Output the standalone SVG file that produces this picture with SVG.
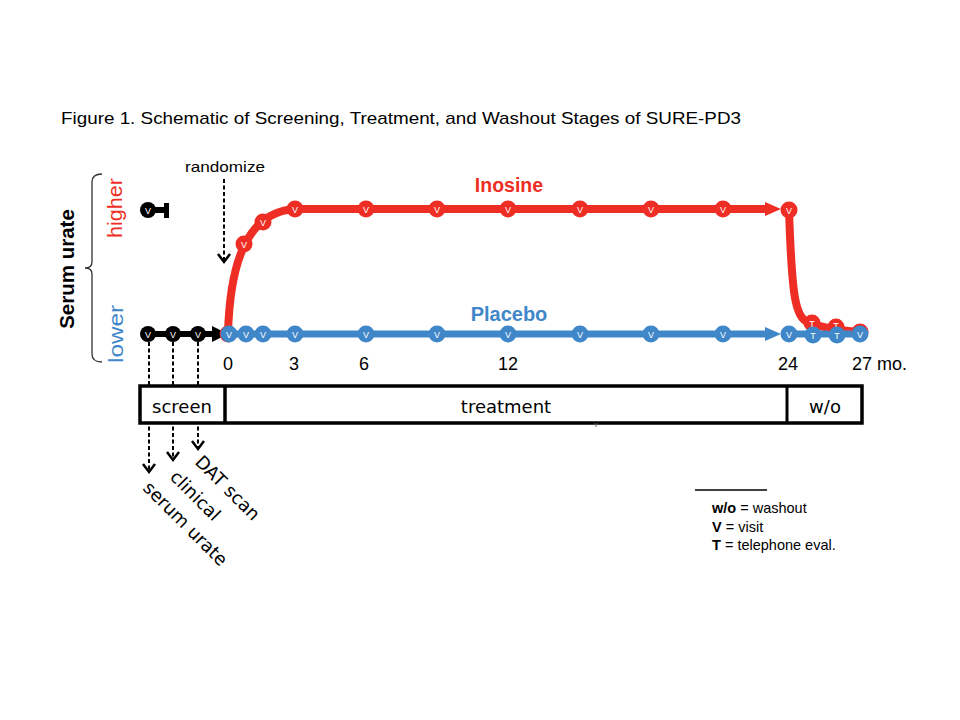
<svg xmlns="http://www.w3.org/2000/svg" width="960" height="720" viewBox="0 0 960 720">
<defs>
<style>
.t{font-family:"Liberation Sans",Arial,sans-serif;}
.d{font-family:"DejaVu Sans",Verdana,sans-serif;fill:#000;}
.red{fill:#EE2E24;}
.blue{fill:#3F87C8;}
.nv{font-family:"Liberation Sans",Arial,sans-serif;font-size:9px;fill:#fff;text-anchor:middle;}
.num{font-family:"Liberation Sans",Arial,sans-serif;font-size:18px;fill:#000;text-anchor:middle;}
.dash{stroke:#000;stroke-width:2;stroke-dasharray:4 2.5;fill:none;}
.chev{fill:none;stroke:#000;stroke-width:2.5;}
</style>
</defs>
<rect width="960" height="720" fill="#fff"/>

<text class="t" x="61" y="124" font-size="17" textLength="680" lengthAdjust="spacingAndGlyphs">Figure 1. Schematic of Screening, Treatment, and Washout Stages of SURE-PD3</text>

<!-- brace and axis labels -->
<g id="axis-label">
<path d="M102,174 Q92,174 92,182 L92,262 Q92,268 85,268 Q92,268 92,274 L92,354 Q92,362 102,362" fill="none" stroke="#333" stroke-width="1.3"/>
<text class="t" transform="translate(74,269) rotate(-90)" font-size="20.5" font-weight="bold" text-anchor="middle">Serum urate</text>
<text class="t red" transform="translate(122,208) rotate(-90)" font-size="21" text-anchor="middle" textLength="60" lengthAdjust="spacingAndGlyphs">higher</text>
<text class="t blue" transform="translate(123,334) rotate(-90)" font-size="21" text-anchor="middle" textLength="58" lengthAdjust="spacingAndGlyphs">lower</text>
</g>

<!-- connectors -->
<g id="connectors">
<!-- randomize arrow -->
<line class="dash" x1="224" y1="179" x2="224" y2="262"/>
<polyline class="chev" points="218,254 224,262 230,254"/>
<!-- screening dashed arrows -->
<line class="dash" x1="149" y1="342" x2="149" y2="472"/>
<polyline class="chev" points="143,464 149,472 155,464"/>
<line class="dash" x1="173" y1="342" x2="173" y2="460"/>
<polyline class="chev" points="167,452 173,460 179,452"/>
<line class="dash" x1="198" y1="342" x2="198" y2="449"/>
<polyline class="chev" points="192,441 198,449 204,441"/>
<!-- black key at top -->
<line x1="148" y1="210" x2="166" y2="210" stroke="#000" stroke-width="6"/>
<rect x="164" y="203" width="5" height="15" fill="#000"/>
<!-- black screening line -->
<line x1="148" y1="334" x2="214" y2="334" stroke="#000" stroke-width="6"/>
<polygon points="212,326 228,334 212,342" fill="#000"/>
<!-- red inosine line -->
<path d="M228,334 C230,260 248,212 295,209 L768,209" fill="none" stroke="#EE2E24" stroke-width="8"/>
<polygon points="765,202 781,209 765,216" fill="#EE2E24"/>
<path d="M789,210 C792,300 795,320 812,324 C824,327 832,330 860,332" fill="none" stroke="#EE2E24" stroke-width="8" stroke-linecap="round"/>
<!-- blue placebo line -->
<line x1="228" y1="334" x2="768" y2="334" stroke="#3F87C8" stroke-width="7"/>
<polygon points="765,327 781,334 765,341" fill="#3F87C8"/>
<line x1="788" y1="334" x2="860" y2="334" stroke="#3F87C8" stroke-width="7"/>
</g>

<!-- black nodes -->
<g id="screen-nodes">
<circle cx="148" cy="210" r="8" fill="#000"/><text class="nv" x="148" y="213.5">V</text>
<circle cx="148" cy="334" r="8" fill="#000"/><text class="nv" x="148" y="337.5">V</text>
<circle cx="173" cy="334" r="8" fill="#000"/><text class="nv" x="173" y="337.5">V</text>
<circle cx="198" cy="334" r="8" fill="#000"/><text class="nv" x="198" y="337.5">V</text>
</g>

<!-- inosine nodes -->
<g id="inosine-nodes">
<circle class="red" cx="228" cy="334" r="8.5"/>
<circle class="red" cx="244" cy="244" r="8.5"/><text class="nv" x="244" y="247.5">V</text>
<circle class="red" cx="263" cy="222" r="8.5"/><text class="nv" x="263" y="225.5">V</text>
<circle class="red" cx="295" cy="209" r="8.5"/><text class="nv" x="295" y="212.5">V</text>
<circle class="red" cx="366" cy="209" r="8.5"/><text class="nv" x="366" y="212.5">V</text>
<circle class="red" cx="437" cy="209" r="8.5"/><text class="nv" x="437" y="212.5">V</text>
<circle class="red" cx="508" cy="209" r="8.5"/><text class="nv" x="508" y="212.5">V</text>
<circle class="red" cx="580" cy="209" r="8.5"/><text class="nv" x="580" y="212.5">V</text>
<circle class="red" cx="651" cy="209" r="8.5"/><text class="nv" x="651" y="212.5">V</text>
<circle class="red" cx="723" cy="209" r="8.5"/><text class="nv" x="723" y="212.5">V</text>
<circle class="red" cx="789" cy="210" r="8.5"/><text class="nv" x="789" y="213.5">V</text>
<circle class="red" cx="836" cy="327" r="8.5"/><text class="nv" x="836" y="329" font-size="8">T</text>
<circle class="red" cx="860" cy="332" r="8.5"/>
<circle class="red" cx="812" cy="323" r="8.5"/><text class="nv" x="812" y="326.5">T</text>
<text class="t red" x="509" y="192" font-size="19.5" font-weight="bold" text-anchor="middle">Inosine</text>
</g>

<!-- placebo nodes -->
<g id="placebo-nodes">
<circle class="blue" cx="229" cy="334" r="8.5"/><text class="nv" x="229" y="337.5">V</text>
<circle class="blue" cx="246" cy="334" r="8.5"/><text class="nv" x="246" y="337.5">V</text>
<circle class="blue" cx="263" cy="334" r="8.5"/><text class="nv" x="263" y="337.5">V</text>
<circle class="blue" cx="295" cy="334" r="8.5"/><text class="nv" x="295" y="337.5">V</text>
<circle class="blue" cx="366" cy="334" r="8.5"/><text class="nv" x="366" y="337.5">V</text>
<circle class="blue" cx="437" cy="334" r="8.5"/><text class="nv" x="437" y="337.5">V</text>
<circle class="blue" cx="508" cy="334" r="8.5"/><text class="nv" x="508" y="337.5">V</text>
<circle class="blue" cx="580" cy="334" r="8.5"/><text class="nv" x="580" y="337.5">V</text>
<circle class="blue" cx="651" cy="334" r="8.5"/><text class="nv" x="651" y="337.5">V</text>
<circle class="blue" cx="723" cy="334" r="8.5"/><text class="nv" x="723" y="337.5">V</text>
<circle class="blue" cx="789" cy="334" r="8.5"/><text class="nv" x="789" y="337.5">V</text>
<circle class="blue" cx="813" cy="335" r="8.5"/><text class="nv" x="813" y="338.5">T</text>
<circle class="blue" cx="837" cy="335" r="8.5"/><text class="nv" x="837" y="338.5">T</text>
<circle class="blue" cx="860" cy="334" r="8.5"/><text class="nv" x="860" y="337.5">V</text>
<text class="t blue" x="509" y="321" font-size="20" font-weight="bold" text-anchor="middle">Placebo</text>
</g>

<g id="randomize">
<text class="t" x="185" y="172" font-size="15" textLength="80" lengthAdjust="spacingAndGlyphs">randomize</text>
</g>

<!-- time axis -->
<g id="time-labels">
<text class="num" x="228" y="370">0</text>
<text class="num" x="294" y="370">3</text>
<text class="num" x="364" y="370">6</text>
<text class="num" x="508" y="370">12</text>
<text class="num" x="788" y="370">24</text>
<text class="t" x="852" y="370" font-size="18">27 mo.</text>
</g>

<!-- stage box -->
<g id="stages">
<rect x="140" y="386" width="722" height="37" fill="#fff" stroke="#000" stroke-width="3.5"/>
<line x1="225" y1="386" x2="225" y2="423" stroke="#000" stroke-width="3.5"/>
<line x1="787" y1="386" x2="787" y2="423" stroke="#000" stroke-width="3"/>
<text class="d" x="182" y="413" font-size="18" text-anchor="middle">screen</text>
<text class="d" x="506" y="413" font-size="18" text-anchor="middle">treatment</text>
<text class="d" x="825" y="413" font-size="18" text-anchor="middle">w/o</text>
<text class="t" x="596" y="427" font-size="7" fill="#777" text-anchor="middle">v</text>
</g>

<!-- screening measures -->
<g id="screen-labels">
<text class="d" transform="translate(194,463) rotate(45)" font-size="18">DAT scan</text>
<text class="d" transform="translate(169,478) rotate(45)" font-size="18">clinical</text>
<text class="d" transform="translate(142,489) rotate(45)" font-size="18">serum urate</text>
</g>

<!-- legend -->
<g id="legend">
<line x1="695" y1="490" x2="767" y2="490" stroke="#000" stroke-width="1.3"/>
<text class="t" x="712" y="513" font-size="14.5"><tspan font-weight="bold">w/o</tspan> = washout</text>
<text class="t" x="712" y="532" font-size="14.5"><tspan font-weight="bold">V</tspan> = visit</text>
<text class="t" x="712" y="550" font-size="14.5"><tspan font-weight="bold">T</tspan> = telephone eval.</text>
</g>
</svg>
